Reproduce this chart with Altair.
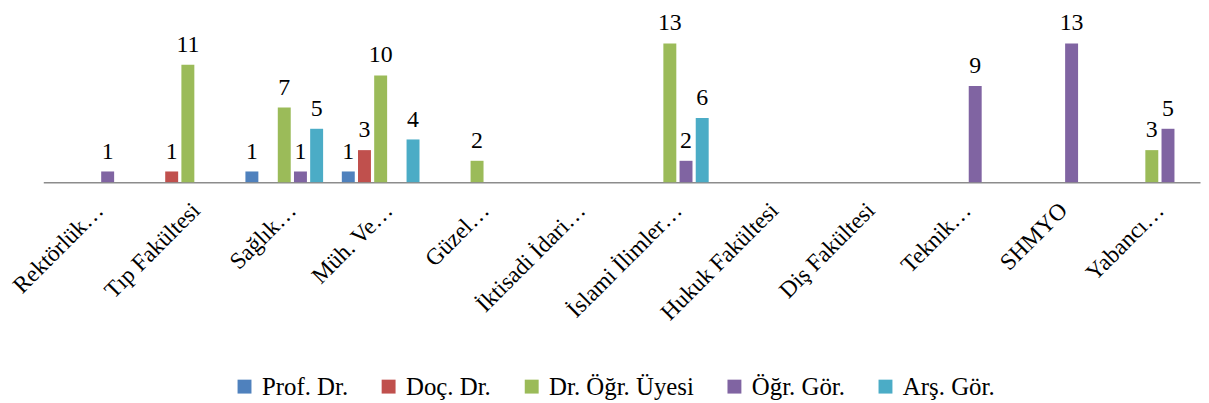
import altair as alt
import pandas as pd

categories = ["Rektörlük…", "Tıp Fakültesi", "Sağlık…", "Müh. Ve…", "Güzel…",
              "İktisadi İdari…", "İslami İlimler…", "Hukuk Fakültesi",
              "Diş Fakültesi", "Teknik…", "SHMYO", "Yabancı…"]
series = ["Prof. Dr.", "Doç. Dr.", "Dr. Öğr. Üyesi", "Öğr. Gör.", "Arş. Gör."]
colors = ["#4F81BD", "#C0504D", "#9BBB59", "#8064A2", "#4BACC6"]

prof_dr   = [None, None, 1, 1, None, None, None, None, None, None, None, None]
doc_dr    = [None, 1, None, 3, None, None, None, None, None, None, None, None]
dr_ogr_uy = [None, 11, 7, 10, 2, None, 13, None, None, None, None, 3]
ogr_gor   = [1, None, 1, None, None, None, 2, None, None, 9, 13, 5]
ars_gor   = [None, None, 5, 4, None, None, 6, None, None, None, None, None]

values = [prof_dr, doc_dr, dr_ogr_uy, ogr_gor, ars_gor]
rows = []
for s, vals in zip(series, values):
    for c, v in zip(categories, vals):
        if v is not None:
            rows.append({"cat": c, "series": s, "value": v})
df = pd.DataFrame(rows)

FONT = "Liberation Serif, Times New Roman, serif"

base = alt.Chart(df).encode(
    x=alt.X("cat:N", sort=categories,
            scale=alt.Scale(domain=categories, paddingInner=0.194, paddingOuter=0.097),
            axis=alt.Axis(title=None, labelAngle=-45, labelFont=FONT, labelFontSize=23.5,
                          labelColor="black", ticks=False, domainColor="#8c8c8c",
                          domainWidth=1.5, labelOverlap=False, labelPadding=16,
                          bandPosition=0.5, labelLimit=300)),
    xOffset=alt.XOffset("series:N", sort=series,
                        scale=alt.Scale(domain=series, paddingInner=0.2, paddingOuter=0)),
    y=alt.Y("value:Q", scale=alt.Scale(domain=[0, 16.2]), axis=None),
)

bars = base.mark_bar().encode(
    color=alt.Color("series:N", sort=series,
                    scale=alt.Scale(domain=series, range=colors),
                    legend=alt.Legend(title=None, orient="none", direction="horizontal",
                                      legendX=190, legendY=367,
                                      symbolType="square", symbolSize=196,
                                      symbolStrokeWidth=0, labelFont=FONT,
                                      labelFontSize=25, labelColor="black",
                                      columnPadding=28, labelOffset=5, padding=0))
)

labels = base.mark_text(baseline="alphabetic", dy=-13, font=FONT, fontSize=24,
                        color="black").encode(text="value:Q")

chart = (bars + labels).properties(
    width=1164, height=174,
    padding={"left": 35.5, "top": 0, "right": 1, "bottom": 221},
    autosize=alt.AutoSizeParams(type="none"),
).configure(font=FONT).configure_view(stroke=None)

chart.save("out.html", embed_options={"renderer": "svg", "actions": False})
